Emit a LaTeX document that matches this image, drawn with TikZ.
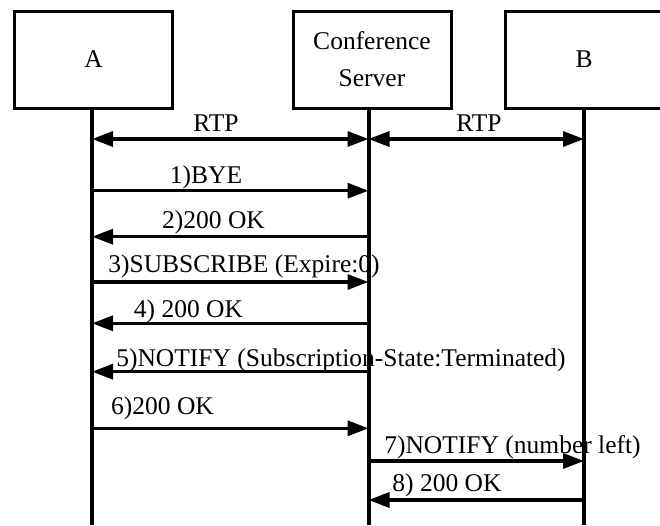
\documentclass[tikz,border=0pt]{standalone}
\usepackage{fontspec}
\setmainfont{Liberation Serif}
\usetikzlibrary{arrows.meta}
\begin{document}
\begin{tikzpicture}[x=1pt,y=-1pt,
  box/.style={draw,line width=3pt,minimum width=158pt,minimum height=97pt,inner sep=0pt,align=center,font=\fontsize{25.5}{37}\selectfont},
  life/.style={line width=4pt},
  msg/.style={line width=3.3pt,-{Triangle[length=21pt,width=15pt]}},
  rtp/.style={line width=3.3pt,{Triangle[length=21pt,width=15pt]}-{Triangle[length=21pt,width=15pt]}},
  lbl/.style={anchor=base,inner sep=0pt,font=\fontsize{25.5}{30}\selectfont}]
\useasboundingbox (0,0) rectangle (660,525);
\clip (0,0) rectangle (660,525);
\fill[white] (0,0) rectangle (660,525);
% participants
\node[box] (A) at (93.5,59.5) {A};
\node[box] (S) at (372,59.5) {Conference\\Server};
\node[box] (B) at (584,59.5) {B};
% lifeline coordinates
\coordinate (At) at (92,108);   \coordinate (Ab) at (92,525);
\coordinate (St) at (368.5,108); \coordinate (Sb) at (368.5,525);
\coordinate (Bt) at (584,108);  \coordinate (Bb) at (584,525);
\draw[life] (At) -- (Ab);
\draw[life] (St) -- (Sb);
\draw[life] (Bt) -- (Bb);
% message end points
\coordinate (r1a) at (92,139);    \coordinate (r1s) at (368.5,139);
\coordinate (r2s) at (368.5,139); \coordinate (r2b) at (584,139);
\coordinate (m1a) at (92,190.7);  \coordinate (m1s) at (368.5,190.7);
\coordinate (m2a) at (92,236.7);  \coordinate (m2s) at (368.5,236.7);
\coordinate (m3a) at (92,282);    \coordinate (m3s) at (368.5,282);
\coordinate (m4a) at (92,323.3);  \coordinate (m4s) at (368.5,323.3);
\coordinate (m5a) at (92,371.7);  \coordinate (m5s) at (368.5,371.7);
\coordinate (m6a) at (92,428.3);  \coordinate (m6s) at (368.5,428.3);
\coordinate (m7s) at (368.5,461); \coordinate (m7b) at (584,461);
\coordinate (m8s) at (368.5,500); \coordinate (m8b) at (584,500);
% arrows
\draw[rtp] (r1a) -- (r1s);
\draw[rtp] (r2s) -- (r2b);
\draw[msg] (m1a) -- (m1s);
\draw[msg] (m2s) -- (m2a);
\draw[msg] (m3a) -- (m3s);
\draw[msg] (m4s) -- (m4a);
\draw[msg] (m5s) -- (m5a);
\draw[msg] (m6a) -- (m6s);
\draw[msg] (m7s) -- (m7b);
\draw[msg] (m8b) -- (m8s);
% labels
\node[lbl] (lr1) at (216,131.5) {RTP};
\node[lbl] (lr2) at (479,131.5) {RTP};
\node[lbl] (l1) at (206,183) {1)BYE};
\node[lbl] (l2) at (213.5,228.5) {2)200 OK};
\node[lbl] (l3) at (244,272) {3)SUBSCRIBE (Expire:0)};
\node[lbl] (l4) at (188.5,317) {4) 200 OK};
\node[lbl] (l5) at (341,366) {5)NOTIFY (Subscription-State:Terminated)};
\node[lbl] (l6) at (162.5,414) {6)200 OK};
\node[lbl] (l7) at (512.5,453) {7)NOTIFY (number left)};
\node[lbl] (l8) at (447,491) {8) 200 OK};
\end{tikzpicture}
\end{document}
